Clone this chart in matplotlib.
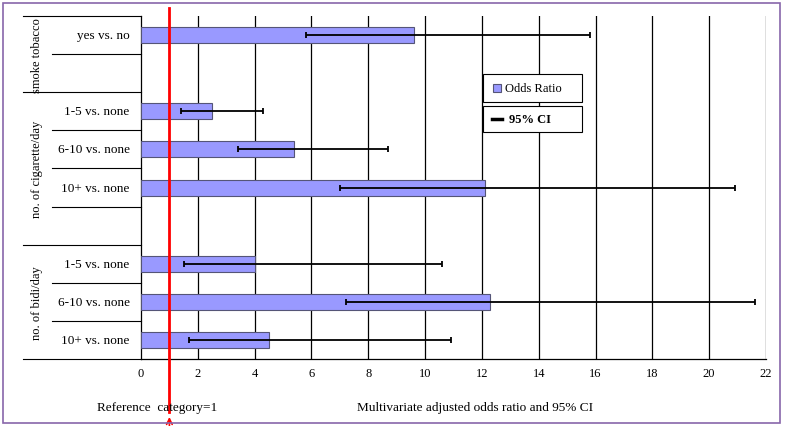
import matplotlib
matplotlib.use("Agg")
import matplotlib.pyplot as plt
from matplotlib.patches import Rectangle
from matplotlib.lines import Line2D

labels = ["yes vs. no", "", "1-5 vs. none", "6-10 vs. none", "10+ vs. none", "",
          "1-5 vs. none", "6-10 vs. none", "10+ vs. none"]
odds = [9.6, None, 2.5, 5.4, 12.1, None, 4.0, 12.3, 4.5]
lo = [5.8, None, 1.4, 3.4, 7.0, None, 1.5, 7.2, 1.7]
hi = [15.8, None, 4.3, 8.7, 20.9, None, 10.6, 21.6, 10.9]
groups = ["smoke tobacco", "no. of cigarette/day", "no. of bidi/day"]
xticks = list(range(0, 23, 2))

plt.rcParams['font.family'] = ['Liberation Serif', 'DejaVu Serif']
fig = plt.figure(figsize=(7.85, 4.27), dpi=100)
ax = fig.add_axes([0.1796, 0.157, 0.7962, 0.803])
n = len(labels)
ys = list(range(n))
for y, o, l, h in zip(ys, odds, lo, hi):
    if o is None:
        continue
    ax.barh(y, o, height=0.42, color="#9999ff", edgecolor="#555577", linewidth=0.8, zorder=3)
    ax.errorbar(o, y, xerr=[[o - l], [h - o]], fmt="none", ecolor="black",
                elinewidth=1.3, capsize=2.5, capthick=1.3, zorder=4)
ax.set_xlim(0, 22)
ax.set_ylim(n - 0.5, -0.5)
ax.set_xticks(xticks)
ax.tick_params(axis="x", length=0, labelsize=9, pad=6)
ax.set_yticks([])
for x in xticks[1:]:
    ax.axvline(x, color="black", linewidth=0.9, zorder=1)
for s in ["top", "right"]:
    ax.spines[s].set_visible(False)
ax.spines["left"].set_linewidth(0.9)
ax.spines["bottom"].set_linewidth(0.9)

tr = ax.get_yaxis_transform()
for y, lab in zip(ys, labels):
    if lab:
        ax.text(-0.018, y, lab, transform=tr, ha="right", va="center", fontsize=9.5)
for b in [0.5, 2.5, 3.5, 4.5, 6.5, 7.5]:
    ax.plot([-0.142, 0], [b, b], transform=tr, color="black", lw=0.8, clip_on=False)
for b in [-0.5, 1.5, 5.5, 8.5]:
    ax.plot([-0.189, 0], [b, b], transform=tr, color="black", lw=0.8, clip_on=False)
ax.text(-0.166, 0.5, groups[0], transform=tr, rotation=90, ha="center", va="center", fontsize=9)
ax.text(-0.166, 3.5, groups[1], transform=tr, rotation=90, ha="center", va="center", fontsize=9)
ax.text(-0.166, 7.0, groups[2], transform=tr, rotation=90, ha="center", va="center", fontsize=9)

# reference line
ax.plot([1, 1], [-0.7, 9.9], color="red", lw=2, clip_on=False, zorder=5)
ax.annotate("", xy=(1, 9.95), xytext=(1, 10.35), xycoords="data",
            arrowprops=dict(arrowstyle="->", color="red", lw=1.2), annotation_clip=False)
fig.text(0.123, 0.045, "Reference  category=1", fontsize=9.5, va="center")
fig.text(0.455, 0.045, "Multivariate adjusted odds ratio and 95% CI", fontsize=9.5, va="center")

# legend boxes
fig.patches.append(Rectangle((483/785, 1-103/427), 99/785, 28/427, transform=fig.transFigure,
                             facecolor="white", edgecolor="black", lw=0.8, zorder=6))
fig.patches.append(Rectangle((493/785, 1-93/427), 8/785, 8/427, transform=fig.transFigure,
                             facecolor="#9999ff", edgecolor="#555577", lw=0.8, zorder=7))
fig.text(505/785, 1-89/427, "Odds Ratio", fontsize=9, va="center", zorder=8)
fig.patches.append(Rectangle((483/785, 1-133/427), 99/785, 26/427, transform=fig.transFigure,
                             facecolor="white", edgecolor="black", lw=0.8, zorder=6))
fig.lines.append(Line2D([492/785, 502/785], [1-120/427]*2, transform=fig.transFigure,
                        color="black", lw=2.5, zorder=7))
fig.text(509/785, 1-120/427, "95% CI", fontsize=9, va="center", fontweight="bold", zorder=8)

fig.patches.append(Rectangle((0.004, 0.006), 0.99, 0.985, transform=fig.transFigure,
                             facecolor="none", edgecolor="#8866aa", lw=1.2))
fig.savefig("out.png", dpi=100)
